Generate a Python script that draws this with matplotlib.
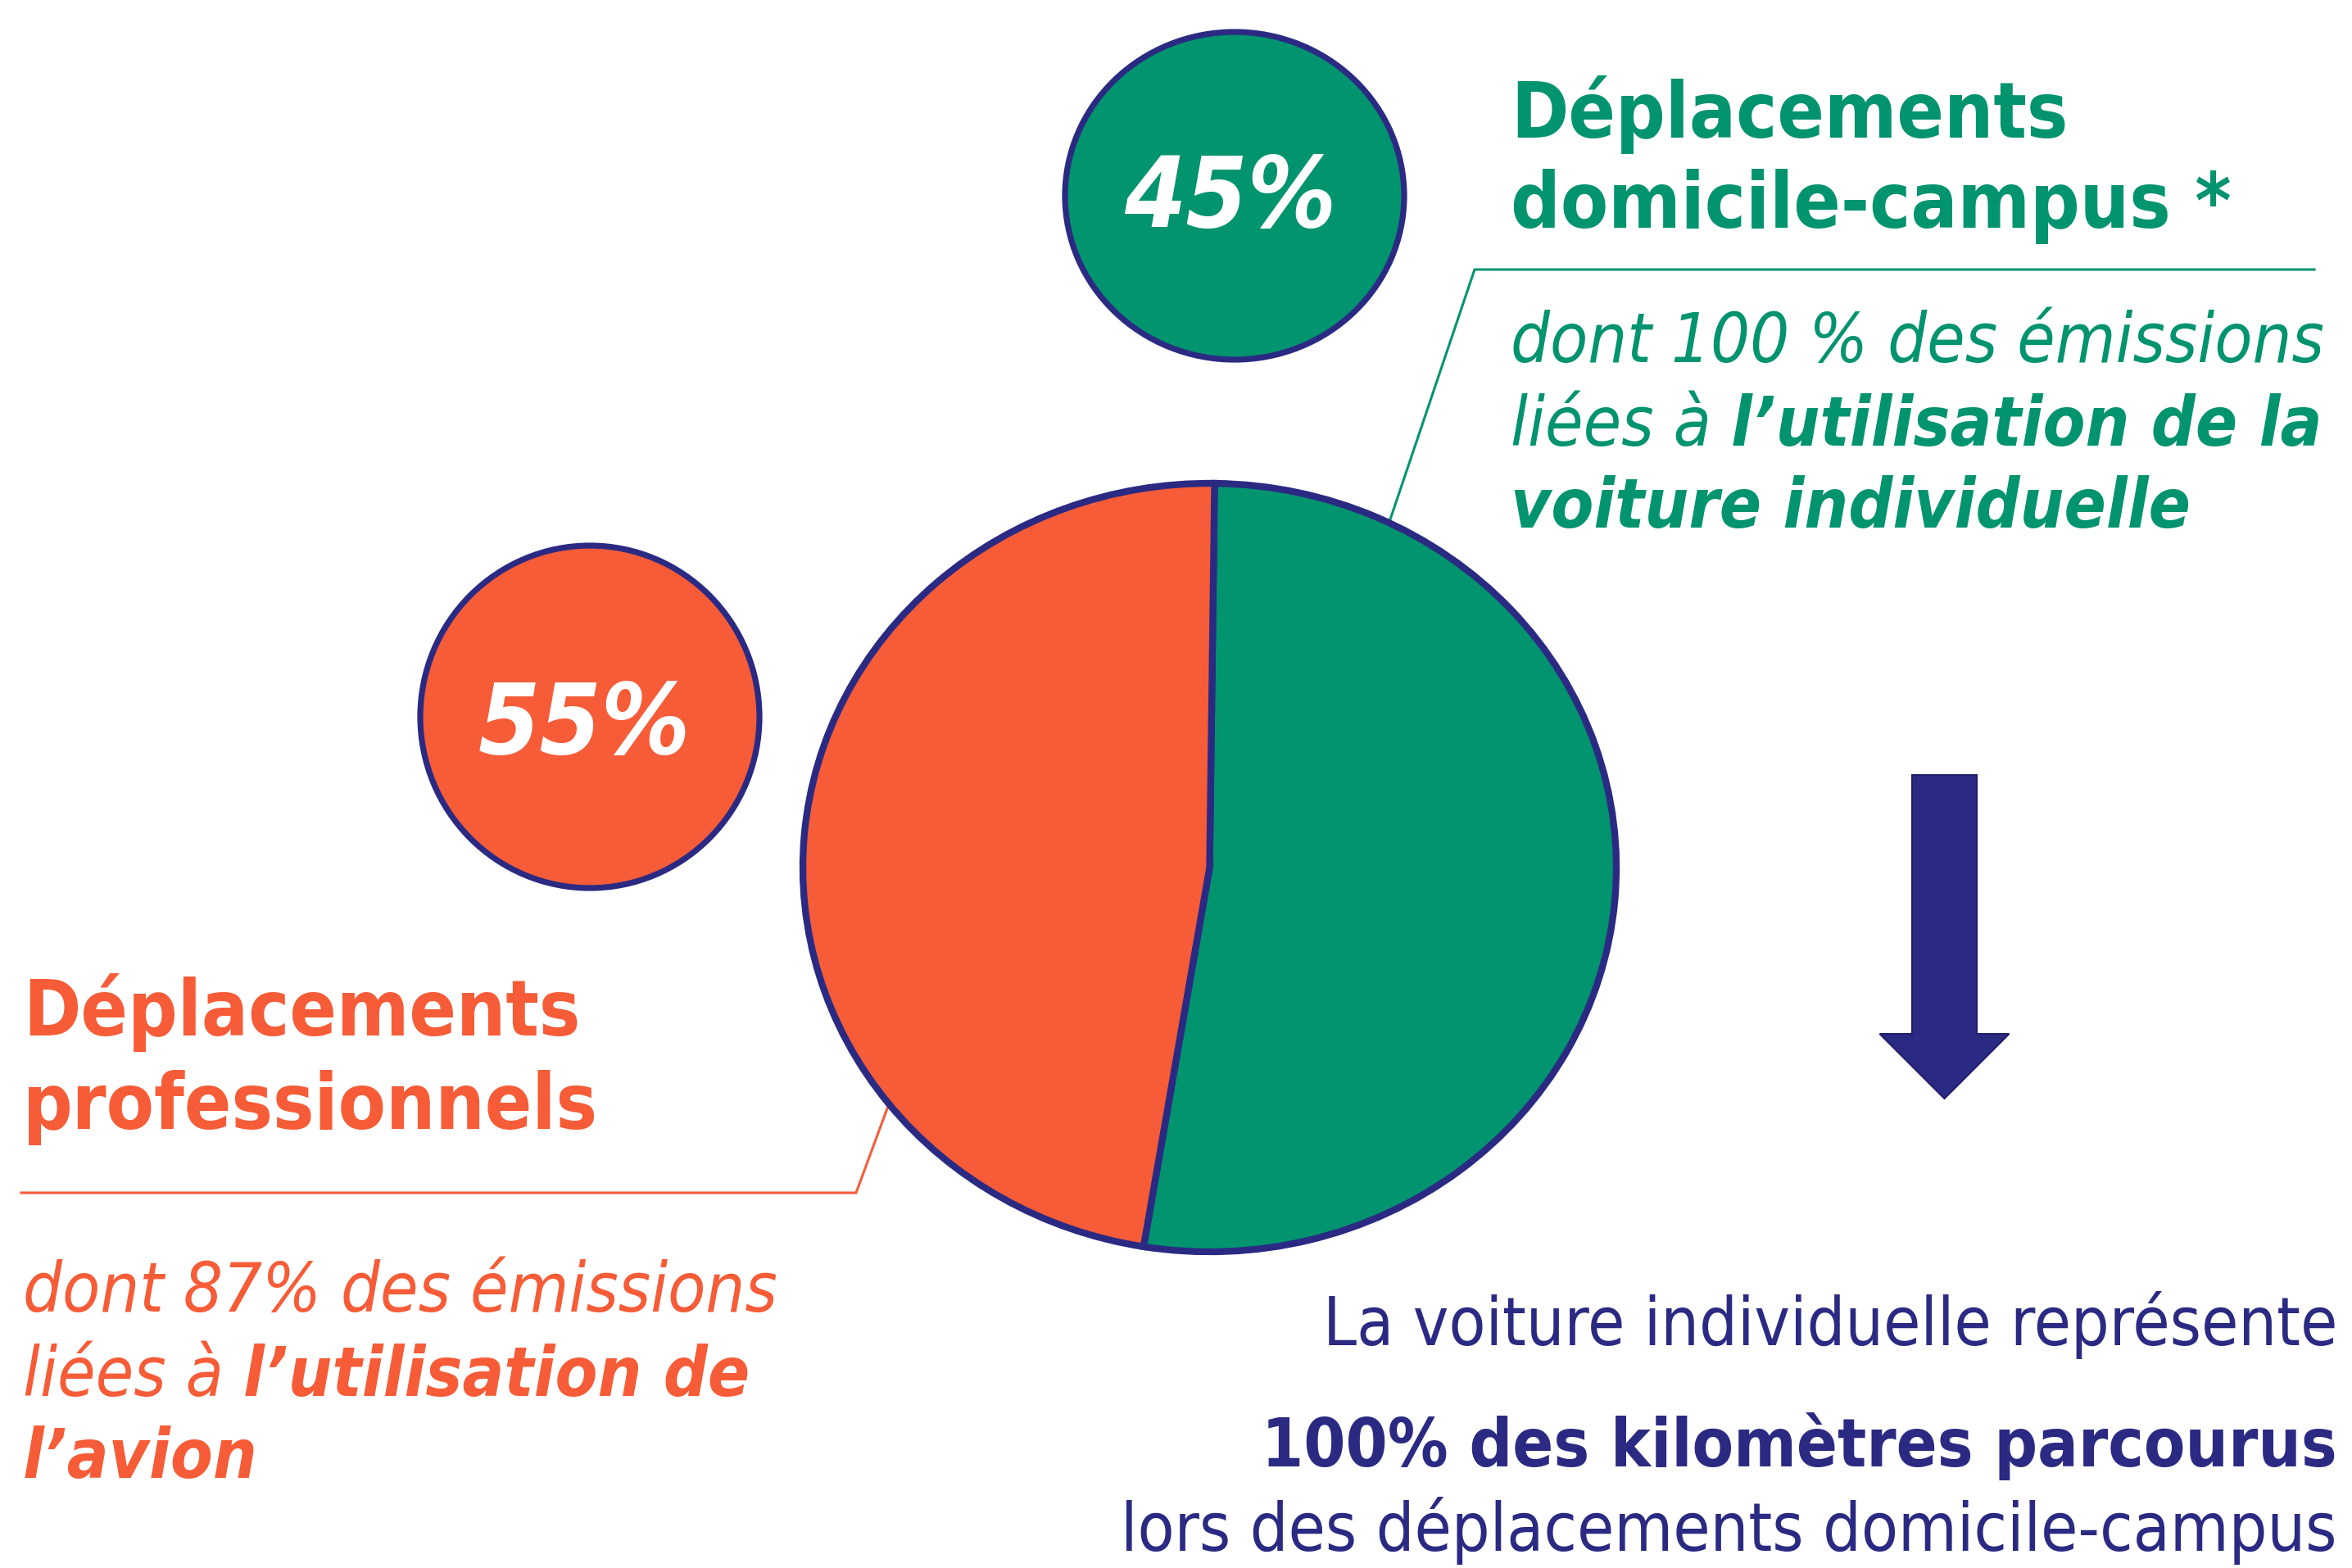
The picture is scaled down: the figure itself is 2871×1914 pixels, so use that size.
import matplotlib
matplotlib.use("Agg")
import matplotlib.pyplot as plt
from matplotlib.patches import Ellipse, FancyArrow

# ---------------- data ----------------
pie_labels = ["Déplacements domicile-campus", "Déplacements professionnels"]
pie_values = [52.4, 47.6]          # slice shares as drawn in the picture
bubble_labels = ["45%", "55%"]

green_heading = ["Déplacements", "domicile-campus *"]
green_detail = [
    [("dont 100 % des émissions", False)],
    [("liées à", False), ("l’utilisation de la", True)],
    [("voiture individuelle", True)],
]
orange_heading = ["Déplacements", "professionnels"]
orange_detail = [
    [("dont 87% des émissions", False)],
    [("liées à", False), ("l’utilisation de", True)],
    [("l’avion", True)],
]
summary_lines = [
    ("La voiture individuelle représente", False),
    ("100% des kilomètres parcourus", True),
    ("lors des déplacements domicile-campus", False),
]

# ---------------- style ----------------
W, H, DPI = 2871, 1915, 100
GREEN = "#02936F"
ORANGE = "#F65C37"
NAVY = "#2B2A83"
plt.rcParams["font.family"] = ["DejaVu Sans"]
plt.rcParams["font.stretch"] = "condensed"

fig = plt.figure(figsize=(W / DPI, H / DPI), dpi=DPI)
fig.patch.set_facecolor("white")
bg = fig.add_axes([0, 0, 1, 1])
bg.set_xlim(0, W)
bg.set_ylim(H, 0)
bg.axis("off")
renderer = fig.canvas.get_renderer()


def twidth(t):
    return t.get_window_extent(renderer).width


def fitted(x, y, s, target, **kw):
    t = bg.text(x, y, s, fontsize=50, **kw)
    for _ in range(3):
        t.set_fontsize(t.get_fontsize() * target / twidth(t))
    return t


def fit_size(s, target, **kw):
    t = fitted(0, 0, s, target, **kw)
    size = t.get_fontsize()
    t.remove()
    return size


def space_width(size, **kw):
    a = bg.text(0, 0, "n n", fontsize=size, **kw)
    b = bg.text(0, 0, "nn", fontsize=size, **kw)
    w = twidth(a) - twidth(b)
    a.remove(); b.remove()
    return w


def seg_line(x, y, segs, size, color):
    sw = space_width(size, style="italic")
    for s, bold in segs:
        t = bg.text(x, y, s, fontsize=size, style="italic",
                    fontweight="bold" if bold else "normal",
                    color=color, ha="left", va="baseline")
        x += twidth(t) + sw


# ---------------- pie ----------------
pie_l, pie_r, pie_t, pie_b = 980, 1973, 591, 1529
pax = fig.add_axes([pie_l / W, 1 - pie_b / H, (pie_r - pie_l) / W, (pie_b - pie_t) / H])
pax.pie(pie_values, colors=[GREEN, ORANGE], startangle=89.3, counterclock=False,
        radius=1, wedgeprops=dict(edgecolor=NAVY, linewidth=6.0, joinstyle="miter"))
pax.set_aspect("auto")
pax.set_xlim(-1, 1)
pax.set_ylim(-1, 1)
pax.axis("off")

# ---------------- bubbles ----------------
bg.add_patch(Ellipse((1507, 240), 414, 400, facecolor=GREEN, edgecolor=NAVY, lw=5.2))
bg.add_patch(Ellipse((720, 876), 414, 418, facecolor=ORANGE, edgecolor=NAVY, lw=5.2))
for lab, (cx, by) in zip(bubble_labels, [(1502, 277), (713, 920)]):
    fitted(cx, by, lab, 259, color="white", fontweight="bold", style="italic",
           ha="center", va="baseline")

# ---------------- leader lines ----------------
bg.plot([2825, 1800, 1697], [330, 330, 635], color=GREEN, lw=2.2, solid_joinstyle="miter")
bg.plot([26, 1045, 1086], [1457, 1457, 1346], color=ORANGE, lw=2.2, solid_joinstyle="miter")

# ---------------- headings ----------------
hsize = fit_size("Déplacements", 681, fontweight="bold")
for s, y in zip(green_heading, [168, 278]):
    bg.text(1844, y, s, fontsize=hsize, fontweight="bold", color=GREEN, ha="left", va="baseline")
for s, y in zip(orange_heading, [1264, 1378]):
    bg.text(28, y, s, fontsize=hsize, fontweight="bold", color=ORANGE, ha="left", va="baseline")

# ---------------- detail paragraphs ----------------
isize = fit_size("dont 100 % des émissions", 993, style="italic")
for segs, y in zip(green_detail, [442, 544, 644]):
    seg_line(1844, y, segs, isize, GREEN)
for segs, y in zip(orange_detail, [1601, 1704, 1804]):
    seg_line(28, y, segs, isize, ORANGE)

# ---------------- arrow ----------------
bg.add_patch(FancyArrow(2373.5, 947, 0, 395, width=79, head_width=158, head_length=79,
                        length_includes_head=True, facecolor=NAVY, edgecolor="#1F1E6A", lw=1.5))

# ---------------- summary ----------------
ssize = fit_size(summary_lines[2][0], 1486)
for (s, bold), y in zip(summary_lines, [1642, 1790, 1893]):
    bg.text(2853, y, s, fontsize=ssize, fontweight="bold" if bold else "normal",
            color=NAVY, ha="right", va="baseline")

fig.savefig("out.png", dpi=DPI, facecolor="white")
